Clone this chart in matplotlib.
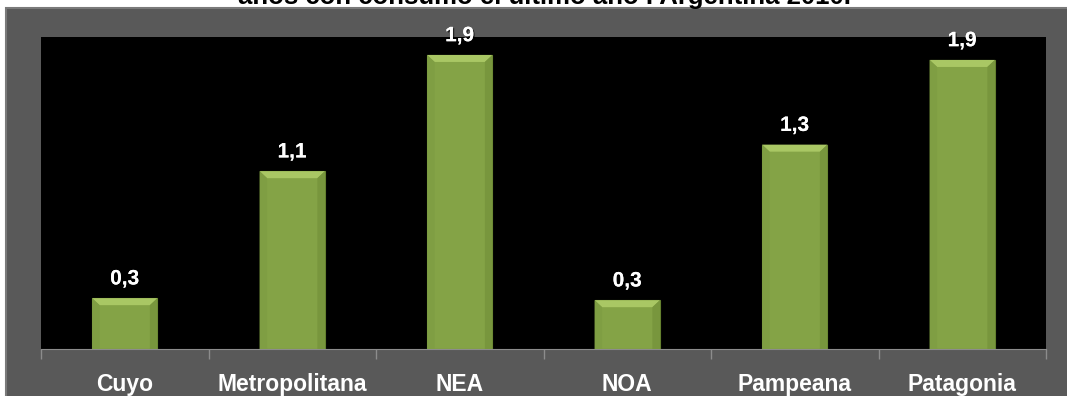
import matplotlib
matplotlib.use("Agg")
import matplotlib.pyplot as plt
import matplotlib.patheffects as pe
from matplotlib.patches import Rectangle, Polygon

regions = ["Cuyo", "Metropolitana", "NEA", "NOA", "Pampeana", "Patagonia"]
values = [0.326, 1.14, 1.885, 0.313, 1.31, 1.853]
labels = ["0,3", "1,1", "1,9", "0,3", "1,3", "1,9"]
title = "años con consumo el último año . Argentina 2010."

W, H = 1067, 396
fig = plt.figure(figsize=(W / 100, H / 100), dpi=100, facecolor="white")

# gray chart frame
fig.patches.append(Rectangle((6 / W, -0.01), 1.0, (H - 8) / H + 0.01, transform=fig.transFigure,
                             facecolor="#595959", edgecolor="#7a7a7a", linewidth=1.5, zorder=-5))

fig.text(545 / W, (H - 4) / H, title, ha="center", va="baseline", fontsize=18.5,
         fontweight="bold", family="Liberation Sans", color="black")

ax = fig.add_axes([41 / W, (H - 349) / H, (1046 - 41) / W, (349 - 37) / H])
ax.set_facecolor("black")
x = list(range(len(regions)))
width = 0.39
bars = ax.bar(x, values, width=width, color="#84a346", edgecolor="#64802e", linewidth=0.8, zorder=2)
ax.set_xlim(-0.5, len(regions) - 0.5)
ax.set_ylim(0, 2)

# bevel on top of each bar
dx, dy = 0.045, 0.045
for b in bars:
    x0, x1, top = b.get_x(), b.get_x() + b.get_width(), b.get_height()
    ax.add_patch(Polygon([(x0, top), (x1, top), (x1 - dx, top - dy), (x0 + dx, top - dy)],
                         closed=True, facecolor="#a9c764", edgecolor="none", zorder=3))
    ax.add_patch(Polygon([(x0, top), (x0 + dx, top - dy), (x0 + dx, 0), (x0, 0)],
                         closed=True, facecolor="#7f9e43", edgecolor="none", zorder=3))
    ax.add_patch(Polygon([(x1, top), (x1 - dx, top - dy), (x1 - dx, 0), (x1, 0)],
                         closed=True, facecolor="#78963d", edgecolor="none", zorder=3))

shadow = [pe.withSimplePatchShadow(offset=(1, -1), shadow_rgbFace="black", alpha=0.6), pe.Normal()]
for xi, v, lab in zip(x, values, labels):
    ax.annotate(lab, (xi, v), xytext=(0, 7), textcoords="offset points", ha="center",
                va="bottom", fontsize=15, fontweight="bold", color="white",
                family="Liberation Sans", path_effects=shadow, annotation_clip=False)

for s in ["top", "left", "right"]:
    ax.spines[s].set_visible(False)
ax.spines["bottom"].set_color("#8c8c8c")
ax.set_yticks([])
ax.set_xticks(x)
ax.set_xticklabels(regions, fontsize=16.5, fontweight="bold", color="white", family="Liberation Sans")
ax.tick_params(axis="x", which="major", length=0, pad=17)
ax.set_xticks([i - 0.5 for i in range(len(regions) + 1)], minor=True)
ax.tick_params(axis="x", which="minor", length=7, color="#8c8c8c", width=1)

fig.savefig("out.png", dpi=100, facecolor=fig.get_facecolor())
